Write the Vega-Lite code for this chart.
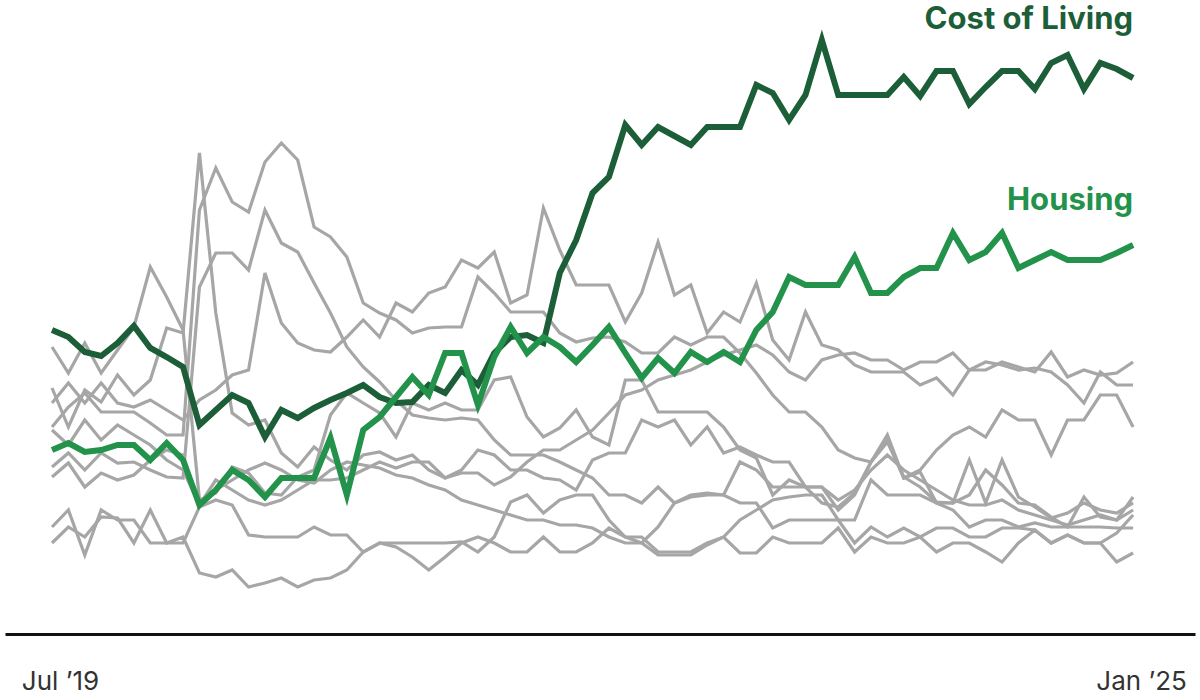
{
  "$schema": "https://vega.github.io/schema/vega-lite/v6.json",
  "width": 1190,
  "height": 600,
  "autosize": {"type": "none"},
  "padding": {"left": 5, "top": 34, "right": 5, "bottom": 66},
  "background": "white",
  "config": {"view": {"stroke": null}},
  "datasets": {
    "series": [
      {"m":0,"col":304,"hou":184,"g1":246,"g2":287,"g3":207,"g4":167,"g5":231,"g6":157,"g7":107,"g8":91,"g9":204},
      {"m":1,"col":297,"hou":191,"g1":207,"g2":261,"g3":227,"g4":181,"g5":251,"g6":171,"g7":124,"g8":107,"g9":189},
      {"m":2,"col":282,"hou":182,"g1":244,"g2":291,"g3":241,"g4":164,"g5":231,"g6":147,"g7":79,"g8":97,"g9":214},
      {"m":3,"col":278,"hou":184,"g1":232,"g2":261,"g3":222,"g4":181,"g5":251,"g6":161,"g7":124,"g8":117,"g9":194},
      {"m":4,"col":291,"hou":189,"g1":259,"g2":284,"g3":222,"g4":171,"g5":231,"g6":154,"g7":114,"g8":116,"g9":209},
      {"m":5,"col":308,"hou":189,"g1":239,"g2":307,"g3":222,"g4":172,"g5":227,"g6":159,"g7":114,"g8":91,"g9":199},
      {"m":6,"col":286,"hou":174,"g1":254,"g2":367,"g3":211,"g4":164,"g5":234,"g6":174,"g7":91,"g8":124,"g9":189},
      {"m":7,"col":277,"hou":191,"g1":306,"g2":337,"g3":199,"g4":157,"g5":224,"g6":184,"g7":91,"g8":91,"g9":174},
      {"m":8,"col":267,"hou":174,"g1":301,"g2":304,"g3":199,"g4":156,"g5":214,"g6":179,"g7":91,"g8":97,"g9":164},
      {"m":9,"col":209,"hou":129,"g1":481,"g2":134,"g3":424,"g4":347,"g5":234,"g6":129,"g7":127,"g8":61,"g9":129},
      {"m":10,"col":224,"hou":144,"g1":321,"g2":141,"g3":466,"g4":381,"g5":244,"g6":154,"g7":134,"g8":57,"g9":144},
      {"m":11,"col":239,"hou":164,"g1":221,"g2":167,"g3":432,"g4":381,"g5":259,"g6":144,"g7":129,"g8":64,"g9":154},
      {"m":12,"col":231,"hou":154,"g1":209,"g2":161,"g3":422,"g4":364,"g5":264,"g6":134,"g7":99,"g8":47,"g9":164},
      {"m":13,"col":197,"hou":137,"g1":214,"g2":141,"g3":472,"g4":424,"g5":361,"g6":129,"g7":97,"g8":51,"g9":171},
      {"m":14,"col":224,"hou":156,"g1":181,"g2":139,"g3":491,"g4":391,"g5":311,"g6":134,"g7":97,"g8":56,"g9":164},
      {"m":15,"col":216,"hou":156,"g1":167,"g2":157,"g3":474,"g4":382,"g5":291,"g6":144,"g7":97,"g8":47,"g9":154},
      {"m":16,"col":226,"hou":156,"g1":187,"g2":164,"g3":407,"g4":351,"g5":284,"g6":154,"g7":107,"g8":54,"g9":151},
      {"m":17,"col":234,"hou":196,"g1":174,"g2":219,"g3":397,"g4":321,"g5":282,"g6":154,"g7":99,"g8":56,"g9":164},
      {"m":18,"col":241,"hou":139,"g1":164,"g2":241,"g3":377,"g4":287,"g5":297,"g6":156,"g7":99,"g8":64,"g9":172},
      {"m":19,"col":249,"hou":204,"g1":179,"g2":231,"g3":331,"g4":267,"g5":314,"g6":164,"g7":82,"g8":82,"g9":169},
      {"m":20,"col":237,"hou":217,"g1":182,"g2":221,"g3":321,"g4":252,"g5":297,"g6":172,"g7":91,"g8":91,"g9":166},
      {"m":21,"col":231,"hou":237,"g1":174,"g2":197,"g3":314,"g4":234,"g5":331,"g6":166,"g7":91,"g8":87,"g9":159},
      {"m":22,"col":232,"hou":257,"g1":179,"g2":231,"g3":301,"g4":219,"g5":322,"g6":172,"g7":91,"g8":77,"g9":156},
      {"m":23,"col":249,"hou":239,"g1":164,"g2":224,"g3":306,"g4":216,"g5":341,"g6":172,"g7":91,"g8":64,"g9":149},
      {"m":24,"col":241,"hou":281,"g1":156,"g2":231,"g3":307,"g4":214,"g5":347,"g6":156,"g7":91,"g8":77,"g9":144},
      {"m":25,"col":264,"hou":281,"g1":164,"g2":224,"g3":307,"g4":216,"g5":374,"g6":161,"g7":92,"g8":91,"g9":134},
      {"m":26,"col":249,"hou":229,"g1":184,"g2":224,"g3":357,"g4":214,"g5":366,"g6":161,"g7":82,"g8":97,"g9":129},
      {"m":27,"col":281,"hou":277,"g1":179,"g2":254,"g3":341,"g4":194,"g5":382,"g6":149,"g7":97,"g8":91,"g9":124},
      {"m":28,"col":297,"hou":307,"g1":164,"g2":257,"g3":322,"g4":179,"g5":331,"g6":157,"g7":132,"g8":82,"g9":119},
      {"m":29,"col":299,"hou":281,"g1":164,"g2":217,"g3":322,"g4":179,"g5":339,"g6":172,"g7":139,"g8":82,"g9":114},
      {"m":30,"col":291,"hou":297,"g1":156,"g2":197,"g3":322,"g4":179,"g5":426,"g6":184,"g7":121,"g8":97,"g9":114},
      {"m":31,"col":361,"hou":287,"g1":154,"g2":206,"g3":301,"g4":172,"g5":384,"g6":184,"g7":134,"g8":82,"g9":109},
      {"m":32,"col":394,"hou":272,"g1":144,"g2":224,"g3":292,"g4":164,"g5":349,"g6":194,"g7":139,"g8":82,"g9":109},
      {"m":33,"col":441,"hou":289,"g1":174,"g2":197,"g3":296,"g4":156,"g5":349,"g6":204,"g7":139,"g8":91,"g9":106},
      {"m":34,"col":457,"hou":307,"g1":181,"g2":189,"g3":297,"g4":139,"g5":349,"g6":221,"g7":114,"g8":106,"g9":97},
      {"m":35,"col":509,"hou":281,"g1":181,"g2":254,"g3":292,"g4":139,"g5":312,"g6":239,"g7":97,"g8":97,"g9":91},
      {"m":36,"col":489,"hou":256,"g1":214,"g2":254,"g3":281,"g4":131,"g5":341,"g6":244,"g7":97,"g8":91,"g9":91},
      {"m":37,"col":507,"hou":276,"g1":207,"g2":222,"g3":281,"g4":147,"g5":392,"g6":254,"g7":82,"g8":79,"g9":107},
      {"m":38,"col":498,"hou":261,"g1":214,"g2":222,"g3":297,"g4":131,"g5":339,"g6":259,"g7":82,"g8":79,"g9":131},
      {"m":39,"col":489,"hou":282,"g1":189,"g2":222,"g3":289,"g4":139,"g5":349,"g6":264,"g7":82,"g8":79,"g9":137},
      {"m":40,"col":507,"hou":272,"g1":207,"g2":222,"g3":297,"g4":141,"g5":301,"g6":272,"g7":91,"g8":89,"g9":139},
      {"m":41,"col":507,"hou":282,"g1":181,"g2":207,"g3":297,"g4":139,"g5":322,"g6":279,"g7":97,"g8":97,"g9":139},
      {"m":42,"col":507,"hou":272,"g1":187,"g2":184,"g3":281,"g4":131,"g5":312,"g6":284,"g7":81,"g8":114,"g9":172},
      {"m":43,"col":549,"hou":304,"g1":179,"g2":176,"g3":261,"g4":131,"g5":351,"g6":289,"g7":81,"g8":124,"g9":164},
      {"m":44,"col":541,"hou":322,"g1":172,"g2":139,"g3":239,"g4":106,"g5":294,"g6":279,"g7":97,"g8":134,"g9":147},
      {"m":45,"col":514,"hou":357,"g1":172,"g2":154,"g3":222,"g4":114,"g5":274,"g6":262,"g7":91,"g8":137,"g9":147},
      {"m":46,"col":539,"hou":349,"g1":147,"g2":147,"g3":222,"g4":114,"g5":322,"g6":254,"g7":91,"g8":139,"g9":147},
      {"m":47,"col":594,"hou":349,"g1":147,"g2":131,"g3":207,"g4":114,"g5":289,"g6":274,"g7":91,"g8":139,"g9":147},
      {"m":48,"col":539,"hou":349,"g1":124,"g2":127,"g3":184,"g4":114,"g5":284,"g6":279,"g7":106,"g8":114,"g9":134},
      {"m":49,"col":539,"hou":377,"g1":139,"g2":141,"g3":176,"g4":114,"g5":269,"g6":281,"g7":82,"g8":91,"g9":144},
      {"m":50,"col":539,"hou":341,"g1":172,"g2":172,"g3":172,"g4":154,"g5":262,"g6":274,"g7":97,"g8":107,"g9":164},
      {"m":51,"col":539,"hou":341,"g1":199,"g2":192,"g3":194,"g4":139,"g5":262,"g6":274,"g7":91,"g8":97,"g9":179},
      {"m":52,"col":557,"hou":357,"g1":156,"g2":157,"g3":156,"g4":139,"g5":262,"g6":264,"g7":91,"g8":106,"g9":164},
      {"m":53,"col":538,"hou":366,"g1":162,"g2":147,"g3":164,"g4":139,"g5":249,"g6":272,"g7":97,"g8":97,"g9":154},
      {"m":54,"col":563,"hou":366,"g1":131,"g2":132,"g3":184,"g4":131,"g5":256,"g6":272,"g7":82,"g8":106,"g9":144},
      {"m":55,"col":563,"hou":401,"g1":131,"g2":131,"g3":199,"g4":124,"g5":239,"g6":281,"g7":91,"g8":106,"g9":134},
      {"m":56,"col":530,"hou":374,"g1":139,"g2":174,"g3":207,"g4":107,"g5":264,"g6":264,"g7":91,"g8":97,"g9":129},
      {"m":57,"col":547,"hou":382,"g1":164,"g2":131,"g3":197,"g4":114,"g5":272,"g6":264,"g7":82,"g8":97,"g9":129},
      {"m":58,"col":563,"hou":401,"g1":149,"g2":174,"g3":224,"g4":114,"g5":269,"g6":272,"g7":72,"g8":106,"g9":134},
      {"m":59,"col":563,"hou":366,"g1":131,"g2":137,"g3":214,"g4":107,"g5":264,"g6":267,"g7":91,"g8":106,"g9":124},
      {"m":60,"col":545,"hou":374,"g1":129,"g2":127,"g3":214,"g4":111,"g5":266,"g6":262,"g7":104,"g8":104,"g9":119},
      {"m":61,"col":571,"hou":382,"g1":117,"g2":116,"g3":179,"g4":107,"g5":262,"g6":282,"g7":91,"g8":91,"g9":114},
      {"m":62,"col":579,"hou":374,"g1":107,"g2":121,"g3":214,"g4":107,"g5":249,"g6":257,"g7":99,"g8":99,"g9":109},
      {"m":63,"col":545,"hou":374,"g1":137,"g2":131,"g3":214,"g4":107,"g5":231,"g6":264,"g7":91,"g8":91,"g9":114},
      {"m":64,"col":571,"hou":374,"g1":117,"g2":124,"g3":239,"g4":107,"g5":262,"g6":259,"g7":91,"g8":91,"g9":119},
      {"m":65,"col":565,"hou":381,"g1":114,"g2":121,"g3":239,"g4":106,"g5":249,"g6":261,"g7":72,"g8":101,"g9":114},
      {"m":66,"col":556,"hou":389,"g1":137,"g2":131,"g3":207,"g4":106,"g5":249,"g6":272,"g7":81,"g8":119,"g9":124}
    ],
    "labels": [
      {"label": "Cost of Living", "m": 66, "v": 605},
      {"label": "Housing", "m": 66, "v": 424}
    ]
  },
  "layer": [
    {
      "data": {"name": "series"},
      "transform": [
        {"fold": ["g1","g2","g3","g4","g5","g6","g7","g8","g9"], "as": ["series","v"]}
      ],
      "mark": {"type": "line", "stroke": "#a6a6a6", "strokeWidth": 3.2, "strokeJoin": "miter"},
      "encoding": {
        "x": {
          "field": "m", "type": "quantitative",
          "scale": {"domain": [-2.87, 69.78], "nice": false, "zero": false},
          "axis": {
            "values": [0, 66],
            "labelExpr": "datum.value == 0 ? 'Jul ’19' : 'Jan ’25'",
            "title": null, "ticks": false, "grid": false,
            "domainColor": "#111111", "domainWidth": 3,
            "labelFont": "Inter", "labelFontSize": 26, "labelColor": "#333333",
            "labelPadding": 34, "labelBaseline": "top", "labelAlign": "center",
            "labelOffset": 8, "labelFlush": false, "labelOverlap": false
          }
        },
        "y": {"field": "v", "type": "quantitative", "scale": {"domain": [0, 600], "nice": false}, "axis": null},
        "detail": {"field": "series"},
        "order": {"field": "m"}
      }
    },
    {
      "data": {"name": "series"},
      "transform": [{"fold": ["col"], "as": ["series","v"]}],
      "mark": {"type": "line", "stroke": "#1c5e38", "strokeWidth": 6, "strokeJoin": "miter"},
      "encoding": {
        "x": {"field": "m", "type": "quantitative"},
        "y": {"field": "v", "type": "quantitative"},
        "order": {"field": "m"}
      }
    },
    {
      "data": {"name": "series"},
      "transform": [{"fold": ["hou"], "as": ["series","v"]}],
      "mark": {"type": "line", "stroke": "#23924a", "strokeWidth": 6, "strokeJoin": "miter"},
      "encoding": {
        "x": {"field": "m", "type": "quantitative"},
        "y": {"field": "v", "type": "quantitative"},
        "order": {"field": "m"}
      }
    },
    {
      "data": {"name": "labels"},
      "mark": {"type": "text", "align": "right", "baseline": "alphabetic", "font": "Inter", "fontSize": 31, "fontWeight": "bold"},
      "encoding": {
        "x": {"field": "m", "type": "quantitative"},
        "y": {"field": "v", "type": "quantitative"},
        "text": {"field": "label"},
        "color": {"field": "label", "type": "nominal", "scale": {"domain": ["Cost of Living", "Housing"], "range": ["#1c5e38", "#23924a"]}, "legend": null}
      }
    }
  ]
}
